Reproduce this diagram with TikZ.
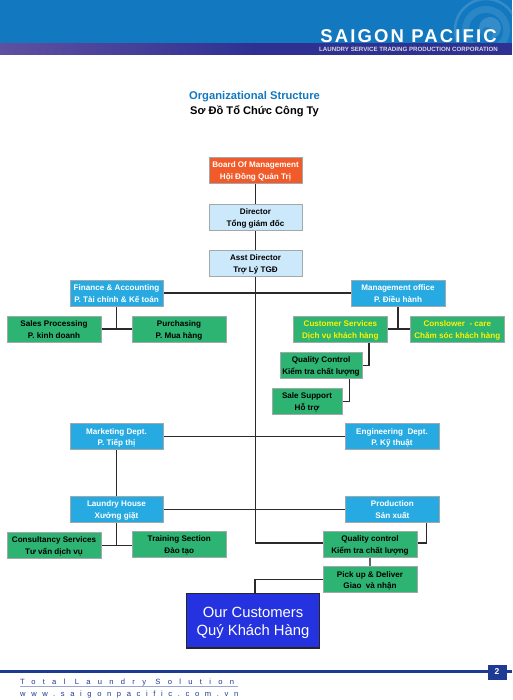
\documentclass[tikz,border=0pt]{standalone}
\usepackage{fontspec}
\usetikzlibrary{backgrounds}
\setmainfont{Liberation Sans}
\definecolor{hblue}{HTML}{1278BF}
\definecolor{hpurL}{HTML}{5F50A0}
\definecolor{hpurR}{HTML}{2E3192}
\definecolor{navy}{HTML}{1F3A93}
\definecolor{boardc}{HTML}{F15A29}
\definecolor{lightc}{HTML}{CCE8FB}
\definecolor{deptc}{HTML}{27AAE1}
\definecolor{greenc}{HTML}{2DB473}
\definecolor{custc}{HTML}{2432E0}
\definecolor{edgec}{HTML}{A3A8AB}
\definecolor{linec}{HTML}{2A2A2A}
\tikzset{
 base/.style={rectangle,draw=edgec,line width=0.9pt,inner sep=0pt,align=center,font=\fontsize{8.1}{11.9}\selectfont\bfseries},
 boardbox/.style={base,fill=boardc,text=white},
 lightbox/.style={base,fill=lightc,text=black},
 deptbox/.style={base,fill=deptc,text=white},
 greenbox/.style={base,fill=greenc,text=black},
 yellowbox/.style={base,fill=greenc,text=yellow},
 custbox/.style={rectangle,draw=black!85,line width=1.1pt,fill=custc,text=white,inner sep=0pt,align=center,font=\fontsize{14.8}{18}\selectfont},
 conn/.style={draw=linec,line width=1.3pt},
 grayconn/.style={draw=black!60,line width=1.4pt},
}
\newcommand\orgbox[8]{\node[#2,minimum width={(#5-#3)*1pt},minimum height={(#6-#4)*1pt}] (#1) at ({(#3+#5)/2},{(#4+#6)/2}) {\rule{0pt}{8.6pt}#7\\#8\rule[-2pt]{0pt}{2pt}};}
\begin{document}
\begin{tikzpicture}[x=1pt,y=-1pt]
\useasboundingbox (0,0) rectangle (512,700);
% header
\fill[hblue] (0,0) rectangle (512,43.5);
\begin{scope}
\clip (0,0) rectangle (512,43.5);
\draw[hblue!85!white,line width=2.5pt] (486,30) circle (31);
\fill[hblue!90!white] (486,30) circle (24);
\fill[hblue] (486,30) circle (17);
\fill[hblue!85!white] (490,28) circle (11);
\fill[hblue!95!white] (487,33) circle (6);
\end{scope}
\begin{scope}
\clip (0,43.5) rectangle (512,54.3);
\shade[left color=hpurL,right color=hpurR] (0,42) rectangle (256,56);
\fill[hpurR] (256,42) rectangle (512,56);
\end{scope}
\node[anchor=base east,inner sep=0pt,text=white,font=\fontsize{18.5}{19}\selectfont\bfseries\addfontfeature{LetterSpace=11.6}] (brand) at (497,43) {SAIGON PACIFIC};
\node[anchor=base east,inner sep=0pt,text=white!85!black,font=\fontsize{6.15}{7}\selectfont\bfseries] (sub) at (498,51.3) {LAUNDRY SERVICE TRADING PRODUCTION CORPORATION};
% titles
\node[text=hblue,inner sep=0pt,font=\fontsize{11.2}{13}\selectfont\bfseries] (t1) at (254.5,97) {Organizational Structure};
\node[text=black,inner sep=0pt,font=\fontsize{11.1}{13}\selectfont\bfseries] (t2) at (254.5,110.8) {Sơ Đồ Tổ Chức Công Ty};
% boxes
\orgbox{board}{boardbox}{209}{157}{302}{183}{Board Of Management}{Hội Đồng Quản Trị}
\orgbox{director}{lightbox}{209}{204}{302}{230}{Director}{Tổng giám đốc}
\orgbox{asst}{lightbox}{209}{250}{302}{276}{Asst Director}{Trợ Lý TGĐ}
\orgbox{finance}{deptbox}{70}{280}{163}{306}{Finance \& Accounting}{P. Tài chính \& Kế toán}
\orgbox{sales}{greenbox}{7}{316}{101}{342}{Sales Processing}{P. kinh doanh}
\orgbox{purch}{greenbox}{132}{316}{226}{342}{Purchasing}{P. Mua hàng}
\orgbox{mgmt}{deptbox}{351}{280}{445}{306}{Management office}{P. Điều hành}
\orgbox{cs}{yellowbox}{293.7}{316}{387}{342}{Customer Services}{Dịch vụ khách hàng}
\orgbox{care}{yellowbox}{410.7}{316}{504}{342}{Conslower~ - care}{Chăm sóc khách hàng}
\orgbox{qc}{greenbox}{280}{352.7}{362}{378}{Quality Control}{Kiểm tra chất lượng}
\orgbox{support}{greenbox}{272}{388.7}{342}{414}{Sale Support}{Hỗ trợ}
\orgbox{eng}{deptbox}{345}{423.7}{439}{449.7}{Engineering~ Dept.}{P. Kỹ thuật}
\orgbox{mkt}{deptbox}{70}{423.7}{163}{449.7}{Marketing Dept.}{P. Tiếp thị}
\orgbox{laundry}{deptbox}{70}{496.3}{163}{522.3}{Laundry House}{Xưởng giặt}
\orgbox{consult}{greenbox}{7}{532.3}{101}{558}{Consultancy Services}{Tư vấn dịch vụ}
\orgbox{train}{greenbox}{132.5}{531}{226}{557}{Training Section}{Đào tạo}
\orgbox{prod}{deptbox}{345.7}{496.3}{439}{522.3}{Production}{Sản xuất}
\orgbox{qc2}{greenbox}{323}{531}{417}{557}{Quality control}{Kiểm tra chất lượng}
\orgbox{pick}{greenbox}{323}{566.7}{417}{592.7}{Pick up \& Deliver}{Giao~ và nhận}
\node[custbox,minimum width=132.6pt,minimum height=54.3pt] (cust) at (253,620.85) {\rule{0pt}{14.5pt}Our Customers\\Quý Khách Hàng\rule[-3.2pt]{0pt}{3.2pt}};
% free connector corners
\coordinate (trunkend) at (255.5,543);
\coordinate (csdrop) at (369,342);
\coordinate (qcdrop) at (349.7,378);
\coordinate (proddrop) at (426.3,522);
\coordinate (qc2mid) at (370,557);
\coordinate (custtop) at (255,593.7);
% connectors, behind the boxes
\begin{pgfonlayer}{background}
\draw[conn] (board.south) -- (trunkend) -- (trunkend -| qc2.west);
\draw[conn] (finance.east) -- (finance.east -| board.south);
\draw[conn] (mgmt.west) -- (mgmt.west -| board.south);
\draw[conn] (finance.south) -- (finance.south |- sales.east);
\draw[conn] (sales.east) -- (purch.west);
\draw[conn] (mgmt.south) -- (mgmt.south |- cs.east);
\draw[conn] (cs.east) -- (care.west);
\draw[conn] (csdrop) |- (qc.east);
\draw[conn] (qcdrop) |- (support.east);
\draw[conn] (mkt.east) -- (mkt.east -| board.south);
\draw[conn] (eng.west) -- (eng.west -| board.south);
\draw[conn] (mkt.south) -- (laundry.north);
\draw[conn] (laundry.east) -- (prod.west);
\draw[conn] (laundry.south) -- (laundry.south |- consult.east);
\draw[conn] (consult.east) -- (consult.east -| train.west);
\draw[conn] (proddrop) |- (trunkend -| qc2.east);
\draw[grayconn] (qc2mid) -- (qc2mid |- pick.north);
\draw[conn] (pick.west) -| (custtop);
\end{pgfonlayer}
% footer
\fill[navy] (0,670.3) rectangle (512,673.2);
\node[fill=navy,draw=navy,minimum width=18pt,minimum height=14.5pt,inner sep=0pt,text=white,font=\fontsize{8.5}{9}\selectfont\bfseries] (page) at (497,672) {2};
\node[anchor=base west,inner sep=0pt,text=navy,font=\fontsize{7.6}{8}\selectfont\addfontfeature{LetterSpace=96}] (slogan) at (20,684) {Total Laundry Solution};
\fill[navy!45!white] (20,686) rectangle (238,687.4);
\node[anchor=base west,inner sep=0pt,text=navy,font=\fontsize{7.6}{8}\selectfont\addfontfeature{LetterSpace=74}] (web) at (20,696) {www.saigonpacific.com.vn};
\end{tikzpicture}
\end{document}
